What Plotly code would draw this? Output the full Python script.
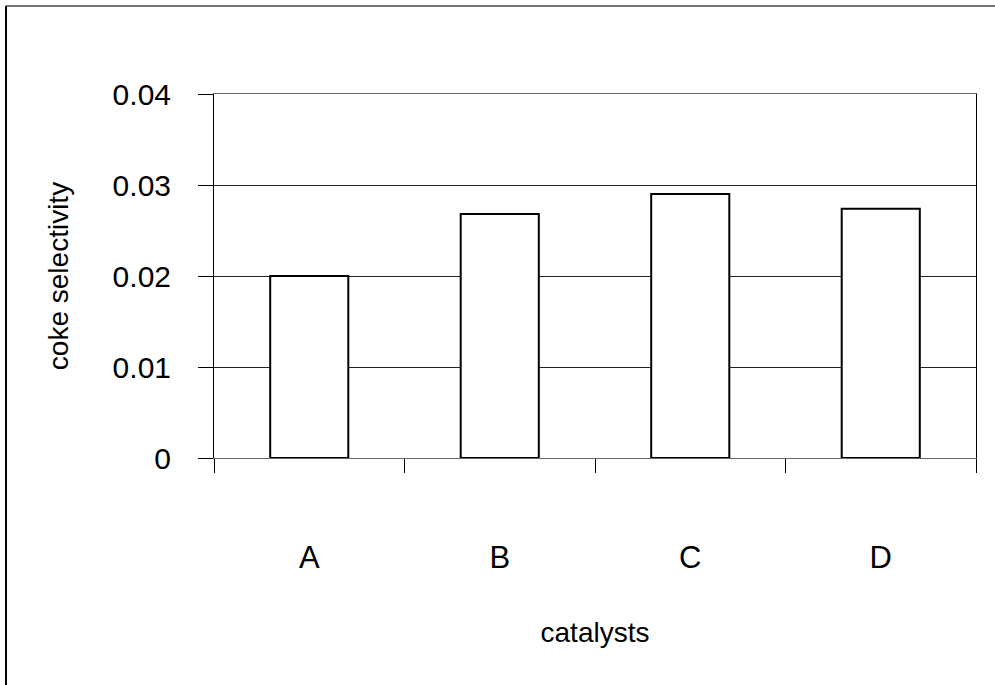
import plotly.graph_objects as go

# Coke selectivity per catalyst
catalysts = ["A", "B", "C", "D"]
coke_selectivity = [0.0200, 0.0268, 0.0290, 0.0274]
y_ticks = [0, 0.01, 0.02, 0.03, 0.04]
y_tick_text = ["0", "0.01", "0.02", "0.03", "0.04"]

W, H = 995, 685
L, R, T, B = 214, 19, 94, 227
plot_w = W - L - R
plot_h = H - T - B

FONT = "Liberation Sans, Arial, sans-serif"

fig = go.Figure(
    go.Bar(
        x=catalysts,
        y=coke_selectivity,
        width=0.41,
        marker=dict(color="white", line=dict(color="black", width=2)),
        showlegend=False,
    )
)

fig.update_layout(
    width=W,
    height=H,
    margin=dict(l=L, r=R, t=T, b=B, pad=0),
    paper_bgcolor="white",
    plot_bgcolor="white",
    font=dict(family=FONT, color="black"),
    bargap=0.59,
)

fig.update_xaxes(
    type="category",
    tickson="boundaries",
    ticks="outside",
    ticklen=14,
    tickwidth=1,
    tickcolor="black",
    ticklabelstandoff=72,
    tickfont=dict(size=31, family=FONT, color="black"),
    showline=True,
    linecolor="#666666",
    linewidth=1,
    mirror=True,
    showgrid=False,
    title=dict(text="catalysts", font=dict(size=28, family=FONT, color="black"), standoff=48),
)

fig.update_yaxes(
    range=[0, 0.04],
    tickvals=y_ticks,
    ticktext=y_tick_text,
    ticks="outside",
    ticklen=15,
    tickwidth=1,
    tickcolor="black",
    ticklabelstandoff=21,
    tickfont=dict(size=30, family=FONT, color="black"),
    showline=True,
    linecolor="black",
    linewidth=1,
    mirror=True,
    showgrid=True,
    gridcolor="#222222",
    gridwidth=1,
    zeroline=False,
    title=dict(text="coke selectivity", font=dict(size=28, family=FONT, color="black"), standoff=35),
)

# Frame around the chart image (left and top edges)
x_left = (6 - L) / plot_w
y_top = 1 + (T - 6) / plot_h
fig.add_shape(type="line", xref="paper", yref="paper", x0=x_left, x1=x_left,
              y0=y_top, y1=-(B + 5) / plot_h, line=dict(color="black", width=2))
fig.add_shape(type="line", xref="paper", yref="paper", x0=x_left, x1=(W - L + 5) / plot_w,
              y0=y_top, y1=y_top, line=dict(color="#444444", width=1.5))

fig.write_html("out.html")
